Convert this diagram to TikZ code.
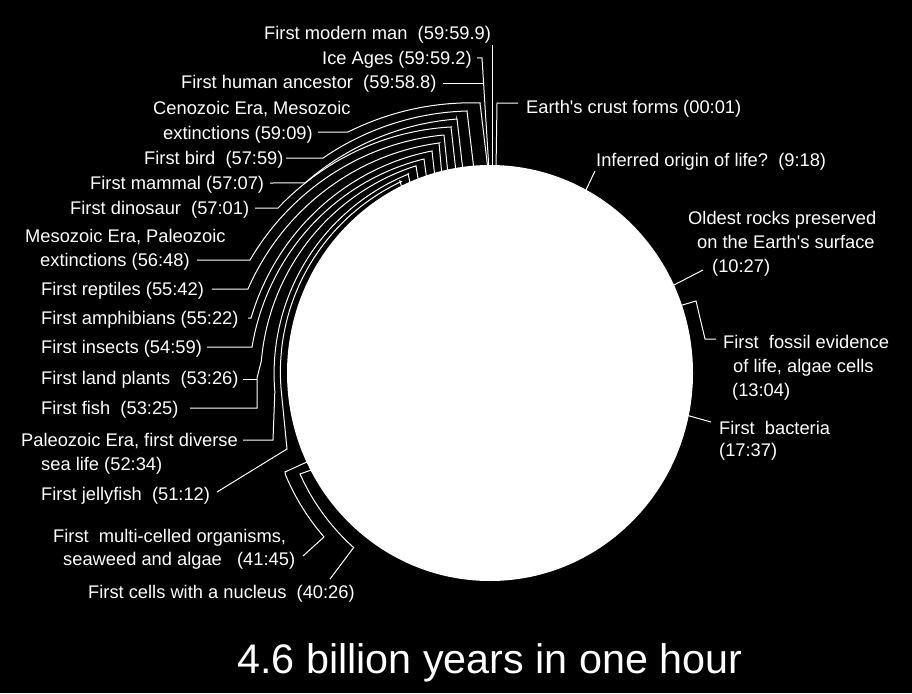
\documentclass[tikz,border=0pt]{standalone}
\usepackage{fontspec}
\setmainfont{Liberation Sans}[Ligatures=TeXOff]
\begin{document}
\begin{tikzpicture}[x=1pt,y=-1pt,
  lbl/.style={anchor=base west, inner sep=0pt, text=white, font=\fontsize{18.3}{22}\selectfont},
  ldr/.style={draw=white, line width=1pt, line join=miter},
  spir/.style n args={4}{insert path={-- plot[domain=#1:#3,samples=60,variable=\t] ({490+(#2+(#4-#2)*(\t-#1)/(#3-#1))*cos(\t)},{373-(#2+(#4-#2)*(\t-#1)/(#3-#1))*sin(\t)})}}]
\fill[black] (0,0) rectangle (912,693);
\useasboundingbox (0,0) rectangle (912,693);
% leaders (drawn first, the disc covers their inner ends)
% top
\draw[ldr] (492,45) -- (492,170);
\draw[ldr] (477,58) -- (482,58) -- (489,170);
\draw[ldr] (443,83) -- (483.7,83);
\draw[ldr] (518,103) -- (497,103) -- (496,170);
% upper left, outer to inner
\draw[ldr] (488,170) -- (480,103) [spir={92.12}{270.2}{120.51}{279.7}] -- (318,132);
\draw[ldr] (474,170) -- (467,111) [spir={95.02}{263}{127.84}{272.2}] -- (286,158);
\draw[ldr] (463,171) -- (457,119) [spir={97.4}{256.1}{134.23}{265.2}] -- (270,183);
\draw[ldr] (456,172) -- (451,127) [spir={99.0}{249.1}{142.11}{268.6}] -- (255,208);
\draw[ldr] (448,174) -- (444,135) [spir={100.94}{242.4}{154.79}{265.3}] -- (197,260);
\draw[ldr] (442,176) -- (439,143) [spir={102.5}{235.6}{160.86}{256.2}] -- (212,289);
\draw[ldr] (435,178) -- (432,151) [spir={104.64}{229.5}{167.04}{245.2}] -- (248,318);
\draw[ldr] (427,181) -- (424,159) [spir={107.14}{224}{173.77}{239.4}] -- (207,347);
\draw[ldr] (419,184) -- (416,166) [spir={109.67}{220}{177}{229}] -- (257,378) -- (257,408) -- (190,408);
\draw[ldr] (243,379) -- (257,379);
\draw[ldr] (411,188) -- (408,173) [spir={112.3}{215}{185}{216}] -- (273,440) -- (243,440);
\draw[ldr] (403,192) -- (400,181) [spir={114.9}{211}{185}{209.5}] -- (287,449) -- (217,492);
% bottom
\draw[ldr] (309,461) -- (285,472) [spir={206.5}{228.5}{224.65}{233.3}] -- (303,556);
\draw[ldr] (314,469) -- (300,474) [spir={209.3}{215.5}{231.99}{221.5}] -- (330,579);
% right
\draw[ldr] (595,171) -- (585,192);
\draw[ldr] (703,270) -- (672,286);
\draw[ldr] (679,306) -- (696,301) -- (705,339) -- (716,339);
\draw[ldr] (686,415) -- (711,422);
% the disc
\fill[white] (490,373) ellipse[x radius=203pt, y radius=208pt];
% labels
\node[lbl] (mm) at (264,40) {First modern man\ \ (59:59.9)};
\node[lbl] (ia) at (322,64) {Ice Ages (59:59.2)};
\node[lbl] (ha) at (181,88) {First human ancestor\ \ (59:58.8)};
\node[lbl] (ec) at (526,113) {Earth's crust forms (00:01)};
\node[lbl] (cz1) at (153,114) {Cenozoic Era, Mesozoic};
\node[lbl] (cz2) at (163,139) {extinctions (59:09)};
\node[lbl] (fb) at (144,164) {First bird\ \ (57:59)};
\node[lbl] (fm) at (90,189) {First mammal (57:07)};
\node[lbl] (fd) at (70,214) {First dinosaur\ \ (57:01)};
\node[lbl] (mz1) at (25,242) {Mesozoic Era, Paleozoic};
\node[lbl] (mz2) at (40,266) {extinctions (56:48)};
\node[lbl] (fr) at (41,295) {First reptiles (55:42)};
\node[lbl] (fa) at (41,324) {First amphibians (55:22)};
\node[lbl] (fi) at (41,353) {First insects (54:59)};
\node[lbl] (fl) at (41,384) {First land plants\ \ (53:26)};
\node[lbl] (ff) at (41,414) {First fish\ \ (53:25)};
\node[lbl] (pz1) at (21,446) {Paleozoic Era, first diverse};
\node[lbl] (pz2) at (41,470) {sea life (52:34)};
\node[lbl] (fj) at (41,500) {First jellyfish\ \ (51:12)};
\node[lbl] (mc1) at (53,542) {First\ \ multi-celled organisms,};
\node[lbl] (mc2) at (63,565) {seaweed and algae\ \ \ (41:45)};
\node[lbl] (fc) at (88,598) {First cells with a nucleus\ \ (40:26)};
\node[lbl] (io) at (596,166) {Inferred origin of life?\ \ (9:18)};
\node[lbl] (or1) at (688,224) {Oldest rocks preserved};
\node[lbl] (or2) at (697,248) {on the Earth's surface};
\node[lbl] (or3) at (712,272) {(10:27)};
\node[lbl] (fe1) at (723,348) {First\ \ fossil evidence};
\node[lbl] (fe2) at (733,372) {of life, algae cells};
\node[lbl] (fe3) at (732,396) {(13:04)};
\node[lbl] (bc1) at (719,434) {First\ \ bacteria};
\node[lbl] (bc2) at (719,456) {(17:37)};
\node[anchor=base, inner sep=0pt, text=white, font=\fontsize{41.3}{42}\selectfont] (title) at (490,673) {4.6 billion years in one hour};
\end{tikzpicture}
\end{document}
